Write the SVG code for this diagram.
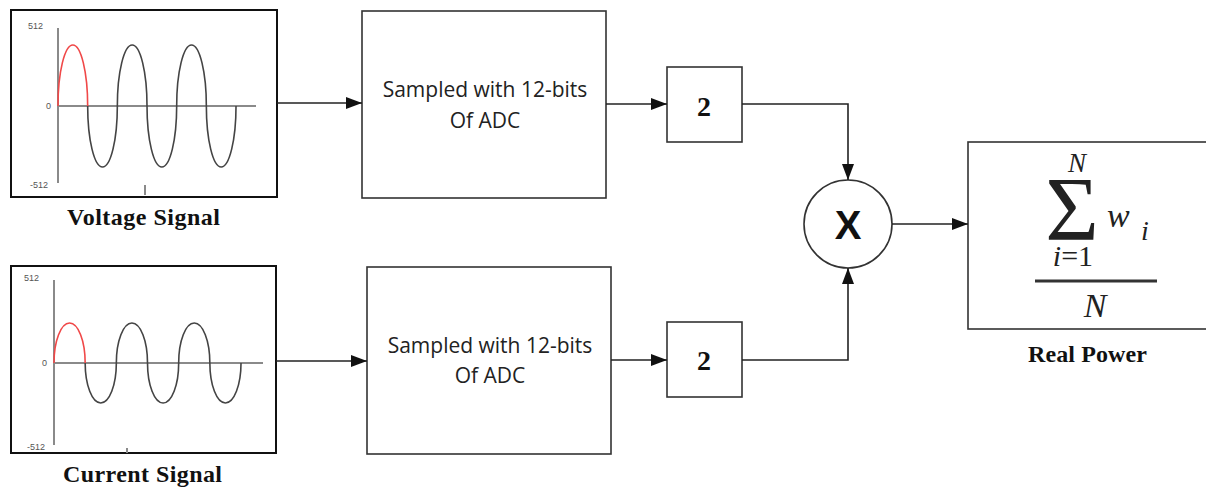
<svg xmlns="http://www.w3.org/2000/svg" width="1206" height="488" viewBox="0 0 1206 488">
<defs>
<marker id="arr" viewBox="0 0 16 12" refX="16" refY="6" markerWidth="16" markerHeight="12" markerUnits="userSpaceOnUse" orient="auto">
<path d="M0,0 L16,6 L0,12 Z" fill="#111"/>
</marker>
<style>
.box{fill:#fff;stroke:#333;stroke-width:1.6}
.sig{fill:#fff;stroke:#111;stroke-width:2}
.axis{stroke:#8a8a8a;stroke-width:2;fill:none}
.wave{stroke:#444;stroke-width:1.6;fill:none}
.red{stroke:#f04848;stroke-width:1.6;fill:none}
.tick{font-family:"Liberation Sans",Arial,sans-serif;font-size:9px;fill:#555}
.lbl{font-family:"Liberation Serif","Times New Roman",serif;font-weight:bold;font-size:24px;fill:#111}
.samp{font-family:"Open Sans","Liberation Sans",sans-serif;font-size:21px;fill:#222;text-anchor:middle}
.two{font-family:"Liberation Serif","Times New Roman",serif;font-weight:bold;font-size:28px;fill:#111;text-anchor:middle}
.math{font-family:"Liberation Serif","Times New Roman",serif;fill:#222}
.conn{stroke:#222;stroke-width:1.6;fill:none}
</style>
</defs>

<g id="voltage-signal">
<rect class="sig" x="11" y="10" width="266" height="187"/>
<line class="axis" x1="58" y1="28" x2="58" y2="183"/>
<line class="axis" x1="58" y1="106" x2="256" y2="106"/>
<line class="axis" x1="145" y1="185" x2="145" y2="195"/>
<text class="tick" x="28" y="29">512</text>
<text class="tick" x="46" y="109">0</text>
<text class="tick" x="30" y="188">-512</text>
<path class="red" d="M58,106 a14.83,61 0 0 1 29.67,0"/>
<path class="wave" d="M87.67,106 a14.83,61 0 0 0 29.67,0 a14.83,61 0 0 1 29.67,0 a14.83,61 0 0 0 29.67,0 a14.83,61 0 0 1 29.67,0 a14.83,61 0 0 0 29.67,0"/>
<text class="lbl" x="67" y="225" textLength="153" lengthAdjust="spacing">Voltage Signal</text>
</g>

<g id="current-signal">
<rect class="sig" x="11" y="266" width="265" height="187"/>
<line class="axis" x1="54" y1="280" x2="54" y2="445"/>
<line class="axis" x1="54" y1="363" x2="263" y2="363"/>
<line class="axis" x1="127" y1="448" x2="127" y2="453"/>
<text class="tick" x="24" y="281">512</text>
<text class="tick" x="42" y="366">0</text>
<text class="tick" x="27" y="450">-512</text>
<path class="red" d="M54,363 a15.58,40 0 0 1 31.17,0"/>
<path class="wave" d="M85.17,363 a15.58,40 0 0 0 31.17,0 a15.58,40 0 0 1 31.17,0 a15.58,40 0 0 0 31.17,0 a15.58,40 0 0 1 31.17,0 a15.58,40 0 0 0 31.17,0"/>
<text class="lbl" x="63" y="482" textLength="159" lengthAdjust="spacing">Current Signal</text>
</g>

<g id="sampler-voltage">
<rect class="box" x="362" y="11" width="244" height="187"/>
<text class="samp" x="485" y="97">Sampled with 12-bits</text>
<text class="samp" x="485" y="128">Of ADC</text>
</g>

<g id="sampler-current">
<rect class="box" x="367" y="267" width="244" height="187"/>
<text class="samp" x="490" y="353">Sampled with 12-bits</text>
<text class="samp" x="490" y="383">Of ADC</text>
</g>

<g id="square-voltage">
<rect class="box" x="667" y="67" width="75" height="75"/>
<text class="two" x="704" y="116">2</text>
</g>

<g id="square-current">
<rect class="box" x="667" y="322" width="75" height="75"/>
<text class="two" x="704" y="370">2</text>
</g>

<g id="multiplier">
<circle cx="848" cy="224" r="44" fill="#fff" stroke="#333" stroke-width="1.6"/>
<text x="848" y="239" text-anchor="middle" font-family="Liberation Sans, Arial, sans-serif" font-weight="bold" font-size="40" fill="#111">X</text>
</g>

<g id="real-power">
<rect class="box" x="968" y="142" width="240" height="187"/>
<text class="math" x="1077" y="172" font-size="27" font-style="italic" text-anchor="middle">N</text>
<text class="math" x="1072" y="240" font-size="92" text-anchor="middle">Σ</text>
<text class="math" x="1107" y="227" font-size="34" font-style="italic">w</text>
<text class="math" x="1141" y="240" font-size="28" font-style="italic">i</text>
<text class="math" x="1073" y="266" font-size="30" text-anchor="middle"><tspan font-style="italic">i</tspan>=1</text>
<line x1="1035" y1="281" x2="1157" y2="281" stroke="#333" stroke-width="3"/>
<text class="math" x="1095" y="317" font-size="34" font-style="italic" text-anchor="middle">N</text>
<text class="lbl" x="1028" y="362" textLength="119" lengthAdjust="spacing">Real Power</text>
</g>

<g id="connectors">
<line class="conn" x1="277" y1="103" x2="362" y2="103" marker-end="url(#arr)"/>
<line class="conn" x1="606" y1="104" x2="667" y2="104" marker-end="url(#arr)"/>
<polyline class="conn" points="742,104 848,104 848,180" marker-end="url(#arr)"/>
<line class="conn" x1="276" y1="361" x2="367" y2="361" marker-end="url(#arr)"/>
<line class="conn" x1="611" y1="360" x2="667" y2="360" marker-end="url(#arr)"/>
<polyline class="conn" points="742,360 848,360 848,268" marker-end="url(#arr)"/>
<line class="conn" x1="892" y1="224" x2="968" y2="224" marker-end="url(#arr)"/>
</g>
</svg>
